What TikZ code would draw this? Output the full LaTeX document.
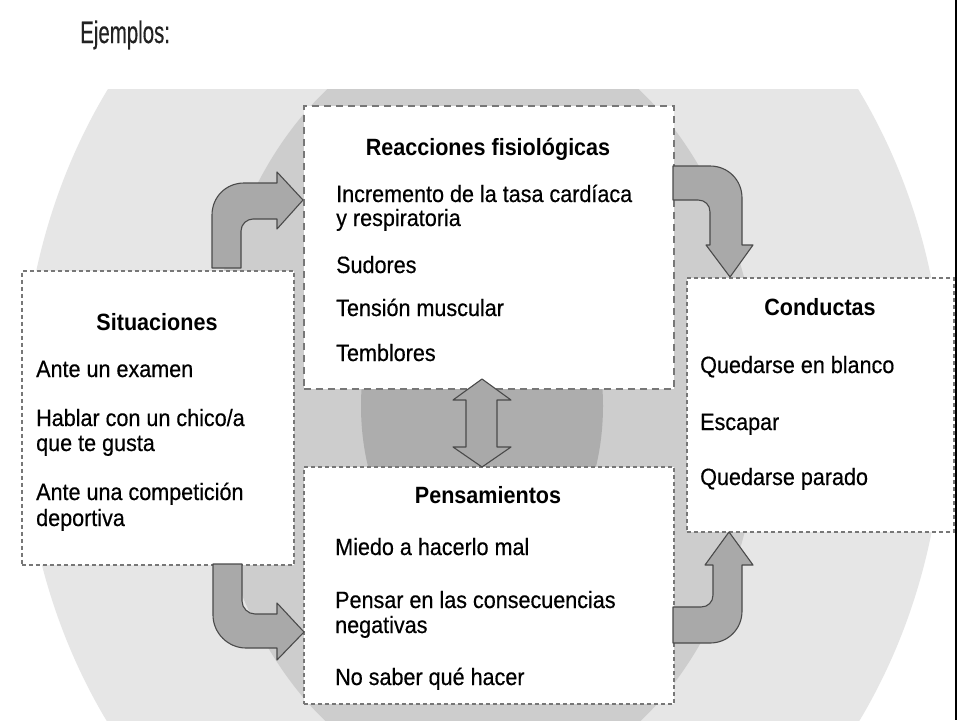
\documentclass[tikz,border=0pt]{standalone}
\usepackage{fontspec}
\setmainfont{Liberation Sans}
\newfontfamily\bodyfont{Liberation Sans}[FakeBold=0.5]
\usetikzlibrary{calc}
\definecolor{bglight}{HTML}{E6E6E6}
\definecolor{bgmid}{HTML}{CDCDCD}
\definecolor{bgdark}{HTML}{ADADAD}
\definecolor{arrowfill}{HTML}{A9A9A9}
\definecolor{arrowline}{HTML}{4A4A4A}
\definecolor{boxline}{HTML}{777777}
\definecolor{titlecol}{HTML}{222222}
\newcommand{\tallt}[1]{\scalebox{0.98}[1.07]{#1}}
\begin{document}
\begin{tikzpicture}[x=1pt,y=-1pt,
  boxdot/.style={draw=boxline, line width=1.6pt, fill=white, dash pattern=on 4pt off 3pt, inner sep=0pt, anchor=north west},
  boxlong/.style={draw=boxline, line width=1.6pt, fill=white, dash pattern=on 7pt off 5pt, inner sep=0pt, anchor=north west},
  blockarrow/.style={fill=arrowfill, draw=arrowline, line width=1.1pt, line join=round},
  txt/.style={anchor=base west, inner sep=0pt, font=\bodyfont\fontsize{22}{24}\selectfont, text=black},
  hdr/.style={anchor=base, inner sep=0pt, font=\fontsize{22}{24}\selectfont\bfseries, text=black},
]
\useasboundingbox (0,0) rectangle (960,720);
\fill[white] (0,0) rectangle (960,720);

% background rings
\begin{scope}
  \clip (0,89) rectangle (955,720);
  \fill[bglight] (483,406) ellipse [x radius=461, y radius=545];
  \fill[bgmid] (483,406) ellipse [x radius=277, y radius=383];
  \fill[bgdark] (482,406) ellipse [x radius=121, y radius=180];
\end{scope}

% right frame line
\draw[line width=2pt, black] (956,0) -- (956,720);

% title
\node[anchor=base west, inner sep=0pt, font=\bodyfont\fontsize{31}{31}\selectfont, text=titlecol] (title) at (80,43) {\scalebox{0.66}[1]{Ejemplos:}};

% boxes
\node[boxdot, minimum width=272pt, minimum height=294pt] (sit) at (21,270) {};
\node[boxlong, minimum width=370pt, minimum height=283pt] (reac) at (303,105) {};
\node[boxdot, minimum width=370pt, minimum height=237pt] (pens) at (303,466) {};
\node[boxdot, minimum width=267pt, minimum height=254pt] (cond) at (686,277) {};

% block arrows
\draw[blockarrow] (212,268) -- (212,215) .. controls (212,197) and (226,183) .. (244,183) -- (277,183) -- (277,172) -- (303,200) -- (277,229) -- (277,219) -- (253,219) .. controls (247,219) and (241,224) .. (241,231) -- (241,268) -- cycle;
\draw[blockarrow] (673,166) -- (710,166) .. controls (728,166) and (742,180) .. (742,198) -- (742,245) -- (753,245) -- (730,277) -- (706,245) -- (710,245) -- (710,212) .. controls (710,205) and (705,200) .. (698,200) -- (673,200) -- cycle;
\draw[blockarrow] (213,564) -- (213,615) .. controls (213,633) and (228,648) .. (246,648) -- (277,648) -- (277,660) -- (304,632) -- (277,603) -- (277,614) -- (255,614) .. controls (248,614) and (242,608) .. (242,601) -- (242,564) -- cycle;
\draw[blockarrow] (673,643) -- (710,643) .. controls (728,643) and (742,629) .. (742,611) -- (742,565) -- (753,565) -- (729,532) -- (705,565) -- (713,565) -- (713,595) .. controls (713,602) and (708,607) .. (701,607) -- (673,607) -- cycle;
\draw[blockarrow] (482,379) -- (511,400) -- (497,400) -- (497,447) -- (511,447) -- (482,467) -- (453,447) -- (466,447) -- (466,400) -- (453,400) -- cycle;

% Situaciones texts
\node[hdr] (sith) at (157,330) {\tallt{Situaciones}};
\node[txt] (sit1) at (36,377) {\tallt{Ante un examen}};
\node[txt] (sit2) at (36,426) {\tallt{Hablar con un chico/a}};
\node[txt] (sit2b) at (36,451) {\tallt{que te gusta}};
\node[txt] (sit3) at (36,500) {\tallt{Ante una competición}};
\node[txt] (sit3b) at (36,526) {\tallt{deportiva}};

% Reacciones texts
\node[hdr] (reach) at (488,155) {\tallt{Reacciones fisiológicas}};
\node[txt] (reac1) at (336,202) {\tallt{Incremento de la tasa cardíaca}};
\node[txt] (reac1b) at (336,226) {\tallt{y respiratoria}};
\node[txt] (reac2) at (336,273) {\tallt{Sudores}};
\node[txt] (reac3) at (336,316) {\tallt{Tensión muscular}};
\node[txt] (reac4) at (336,361) {\tallt{Temblores}};

% Pensamientos texts
\node[hdr] (pensh) at (488,503) {\tallt{Pensamientos}};
\node[txt] (pens1) at (335,555) {\tallt{Miedo a hacerlo mal}};
\node[txt] (pens2) at (335,608) {\tallt{Pensar en las consecuencias}};
\node[txt] (pens2b) at (335,633) {\tallt{negativas}};
\node[txt] (pens3) at (335,685) {\tallt{No saber qué hacer}};

% Conductas texts
\node[hdr] (condh) at (820,315) {\tallt{Conductas}};
\node[txt] (cond1) at (700,373) {\tallt{Quedarse en blanco}};
\node[txt] (cond2) at (700,430) {\tallt{Escapar}};
\node[txt] (cond3) at (700,485) {\tallt{Quedarse parado}};
\end{tikzpicture}
\end{document}
